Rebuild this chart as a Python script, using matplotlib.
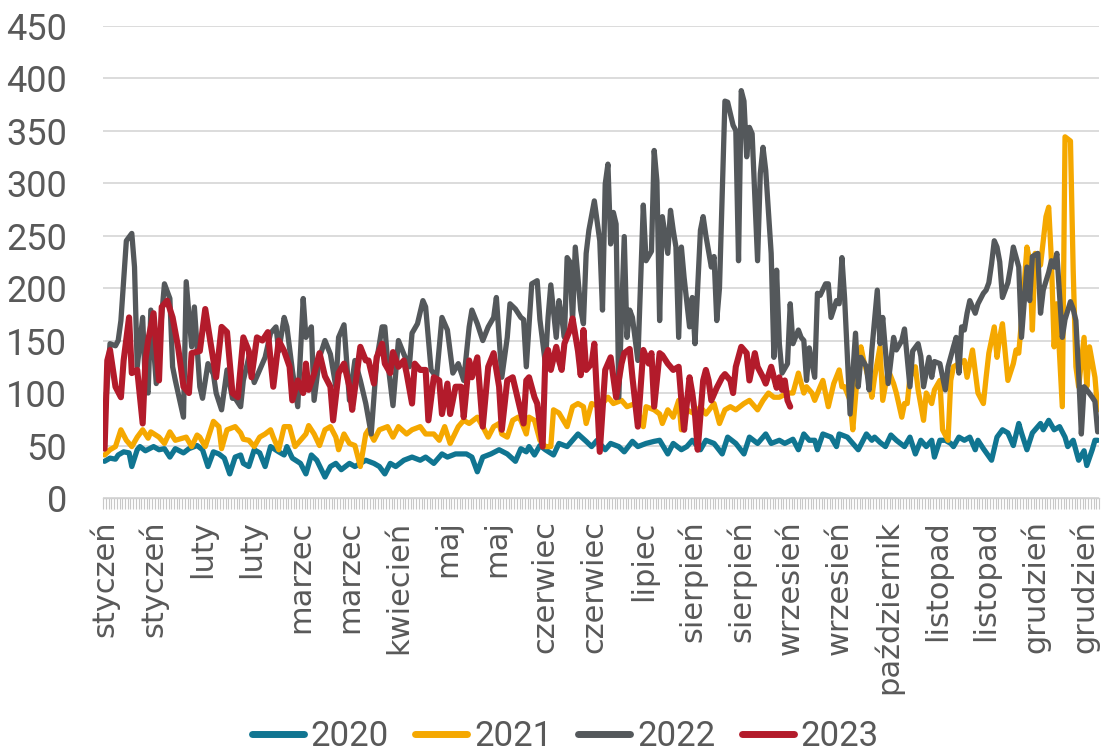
import numpy as np
import matplotlib
matplotlib.use("Agg")
import matplotlib.pyplot as plt
from matplotlib.ticker import FixedLocator

# ---------------- data (day index within year, value) ----------------
d2020 = [0,2,4,5,7,9,10,12,13,15,18,20,22,24,26,29,31,34,36,38,40,42,44,46,48,50,51,53,55,57,59,61,64,66,67,69,72,74,76,78,81,83,85,87,90,92,94,96,99,101,103,105,107,110,113,116,118,121,124,126,129,133,135,137,139,142,145,148,151,153,155,156,158,160,162,165,167,170,172,174,177,179,181,184,186,189,191,194,196,199,202,204,207,209,212,214,216,219,221,224,227,229,232,235,237,240,243,245,248,250,253,255,257,259,261,262,264,267,269,270,273,275,277,280,282,283,285,287,289,291,294,296,298,300,302,304,305,307,309,311,312,314,316,318,320,321,323,326,328,330,332,334,336,337,339,341,344,345,347,349,351,353,354,356,358,360,361,363,364,365]
v2020 = [35,38,37,41,44,43,30,46,49,45,49,46,47,39,47,43,47,50,46,30,44,42,38,23,39,41,33,30,46,43,30,49,44,41,49,38,33,23,41,36,20,30,33,27,33,30,33,36,33,30,23,33,30,36,39,36,39,33,42,39,42,42,39,25,39,42,46,42,35,47,44,49,41,50,46,41,52,49,55,61,54,49,55,46,52,49,44,54,49,52,54,55,42,52,46,49,55,46,55,52,42,58,52,42,58,52,61,52,55,52,56,46,61,55,55,46,61,58,49,61,58,52,46,61,55,58,53,49,60,55,49,58,42,55,49,55,39,55,55,52,49,58,55,58,46,55,47,36,58,65,62,50,71,62,46,62,71,65,74,65,68,58,49,55,36,45,31,46,55,55]

d2021 = [0,2,4,6,8,10,12,14,16,17,20,22,24,26,30,32,34,35,37,40,42,43,45,48,50,51,53,55,57,59,61,62,64,66,68,70,72,74,75,77,79,81,83,85,86,88,90,92,94,96,97,99,101,104,106,108,111,113,116,118,121,123,125,127,130,132,134,137,139,141,143,145,146,148,150,152,153,155,156,158,160,162,164,165,167,170,172,174,176,177,179,182,185,187,190,192,195,198,199,202,204,205,207,209,211,212,214,217,219,221,224,226,228,230,232,235,237,240,242,244,246,248,251,253,255,257,258,260,261,263,264,266,268,270,271,272,274,275,277,278,279,281,282,283,285,286,288,290,291,293,294,295,296,298,299,301,302,304,305,307,308,310,311,312,314,316,317,319,321,323,324,325,327,328,329,330,332,334,335,336,337,339,340,341,342,343,344,346,347,348,349,350,352,353,355,356,357,358,360,361,362,364,365]
v2021 = [41,46,49,65,55,49,58,65,57,63,58,52,63,55,58,49,60,58,49,73,68,47,65,68,62,56,55,49,58,61,65,58,46,68,68,49,55,61,69,61,50,65,68,58,46,61,52,50,30,61,65,55,65,68,58,68,61,65,68,61,61,55,68,52,68,74,71,77,68,58,68,71,61,58,74,77,74,61,77,74,55,49,49,84,81,68,87,90,87,71,90,87,96,90,93,87,90,68,87,84,80,71,84,77,93,65,84,80,87,80,90,71,84,87,84,90,93,84,93,100,96,96,100,100,119,100,106,100,93,106,112,87,109,122,106,106,93,65,128,144,131,112,96,115,144,93,122,109,100,77,90,90,115,125,103,74,100,90,103,112,65,55,112,125,128,131,115,141,100,90,115,138,163,134,153,166,112,128,141,138,169,239,226,160,233,220,222,268,277,226,144,185,87,344,340,217,125,106,153,106,144,115,84]

d2022 = [0,2,4,5,6,8,10,11,12,14,15,16,17,19,20,22,24,25,26,29,30,32,33,35,36,38,40,41,43,45,47,48,50,51,53,55,57,59,61,63,64,66,67,69,71,73,74,76,77,79,81,83,85,86,88,90,92,94,96,98,100,102,103,104,106,108,110,112,113,115,117,118,120,122,124,126,128,130,132,134,135,137,139,141,143,144,146,148,149,151,153,154,155,157,159,160,162,163,164,166,167,168,169,170,171,172,173,175,176,177,178,180,182,183,184,185,186,187,188,189,191,192,193,194,196,198,199,201,202,203,204,205,207,208,209,210,211,212,213,215,216,217,219,220,221,223,224,225,226,228,229,231,232,233,234,235,236,237,238,240,241,242,243,245,246,247,248,249,251,252,253,255,256,257,258,259,261,262,263,265,266,267,269,270,271,272,274,276,277,278,280,281,282,284,285,286,288,290,291,293,294,296,297,299,300,301,303,304,305,307,309,310,312,313,314,315,316,317,318,320,321,323,324,325,326,327,328,329,330,332,333,334,336,337,339,340,341,343,344,345,347,348,349,350,352,353,355,356,357,358,359,360,361,363,364,365]
v2022 = [74,147,145,150,169,245,252,220,125,172,106,100,179,109,144,204,190,125,112,77,206,144,182,106,95,128,118,100,84,122,95,95,87,112,134,110,122,134,157,163,140,172,163,122,87,190,153,163,93,134,150,137,106,153,165,93,131,112,90,61,131,163,163,131,88,150,137,125,157,166,188,182,122,115,172,160,119,128,112,163,179,166,150,163,172,191,115,153,185,180,172,170,125,204,207,170,128,172,203,153,188,172,153,229,225,169,239,179,166,233,255,283,245,179,299,318,242,272,261,96,249,153,179,172,131,279,226,235,331,302,169,268,233,274,255,239,153,239,210,163,191,147,255,268,250,220,230,169,200,378,377,355,350,226,388,378,325,353,347,226,309,334,312,233,134,217,147,119,128,185,147,160,153,150,112,143,115,195,193,204,204,172,188,185,229,190,80,157,106,134,125,103,141,198,147,172,109,153,141,150,161,106,140,147,135,106,134,115,130,128,103,125,144,153,119,163,160,176,188,176,185,195,198,205,223,245,239,225,191,205,220,239,220,153,220,188,230,233,176,198,215,226,220,233,153,170,187,180,169,119,61,106,103,96,92,63]

d2023 = [0,1,2,4,6,7,9,10,12,14,15,16,18,20,21,23,25,27,29,31,32,35,37,39,41,43,45,47,49,51,53,54,56,58,60,62,64,66,68,69,71,73,74,75,77,79,81,83,84,86,88,90,91,94,96,97,99,100,102,103,105,106,108,110,111,113,114,116,118,119,121,123,124,126,127,129,131,132,134,135,137,139,141,143,145,146,148,150,152,154,155,156,158,159,161,162,163,164,166,167,168,169,171,172,174,175,176,177,179,180,182,184,186,188,190,191,193,194,196,198,200,201,202,204,205,207,209,211,212,213,215,216,217,218,220,221,222,223,225,227,228,230,231,232,234,236,237,239,240,242,243,245,247,248,249,250,251,252]
v2023 = [47,131,141,106,96,131,172,119,122,71,131,150,176,112,182,188,172,144,106,100,138,140,180,147,115,163,158,100,96,153,140,115,153,150,158,106,150,140,125,93,112,100,128,103,118,138,116,106,74,119,128,106,84,144,131,131,109,134,147,128,119,139,125,131,119,90,128,122,122,74,115,112,80,109,80,106,106,77,131,115,134,68,125,138,106,65,112,115,93,71,112,115,96,90,49,134,141,122,144,131,122,147,160,171,140,117,160,122,128,147,44,122,134,96,128,138,142,115,68,141,128,138,87,138,136,128,122,125,93,65,115,100,80,46,112,122,112,93,105,115,118,112,100,125,144,138,112,138,125,115,109,125,105,115,103,112,93,87]

series_names = ["2020", "2021", "2022", "2023"]
series_colors = ["#107591", "#F5A800", "#54585B", "#B31B2B"]

n_days = 366
label_days = list(range(0, 366, 18))
month_labels = ["styczeń", "styczeń", "luty", "luty", "marzec", "marzec", "kwiecień",
                "maj", "maj", "czerwiec", "czerwiec", "lipiec", "sierpień", "sierpień",
                "wrzesień", "wrzesień", "październik", "listopad", "listopad",
                "grudzień", "grudzień"]
y_ticks = list(range(0, 451, 50))

# ---------------- figure ----------------
num_font = ["Roboto", "DejaVu Sans"]
text_col = "#595959"

fig = plt.figure(figsize=(11.04, 7.53), dpi=100)
ax = fig.add_axes([0.0935, 0.3386, 0.902, 0.6275])

days_list = [d2020, d2021, d2022, d2023]
vals_list = [v2020, v2021, v2022, v2023]
widths = [3.8, 3.8, 3.8, 4.4]
for name, col, dd, vv, lw in zip(series_names, series_colors, days_list, vals_list, widths):
    ax.plot(dd, vv, color=col, lw=lw, label=name, solid_joinstyle="round",
            solid_capstyle="round", zorder=3)

ax.set_xlim(-0.5, n_days - 0.5)
ax.set_ylim(0, 450)
ax.set_yticks(y_ticks)
ax.grid(axis="y", color="#D9D9D9", lw=1.3, zorder=0)
ax.set_axisbelow(True)

for s in ["left", "right", "top"]:
    ax.spines[s].set_visible(False)
ax.spines["bottom"].set_color("#D0D0D0")
ax.spines["bottom"].set_linewidth(1.0)

ax.xaxis.set_major_locator(FixedLocator(label_days))
ax.set_xticklabels(month_labels, rotation=90, fontsize=22, color=text_col,
                   family="DejaVu Sans")
ax.xaxis.set_minor_locator(FixedLocator(np.arange(-0.5, n_days, 1.0)))
ax.tick_params(axis="x", which="major", length=0, pad=16)
ax.tick_params(axis="x", which="minor", length=8, width=0.8, color="#C8C8C8")

ax.tick_params(axis="y", length=0, pad=26, labelcolor=text_col)
for lab in ax.get_yticklabels():
    lab.set_family(num_font)
    lab.set_fontsize(26)

leg = fig.legend(loc="center", bbox_to_anchor=(0.512, 0.022), ncol=4, frameon=False,
                 prop={"family": num_font, "size": 25}, handlelength=1.5,
                 handletextpad=0.2, columnspacing=0.75, labelcolor=text_col,
                 borderpad=0.1)
for h in leg.get_lines():
    h.set_linewidth(5)

fig.savefig("out.png", dpi=100)
